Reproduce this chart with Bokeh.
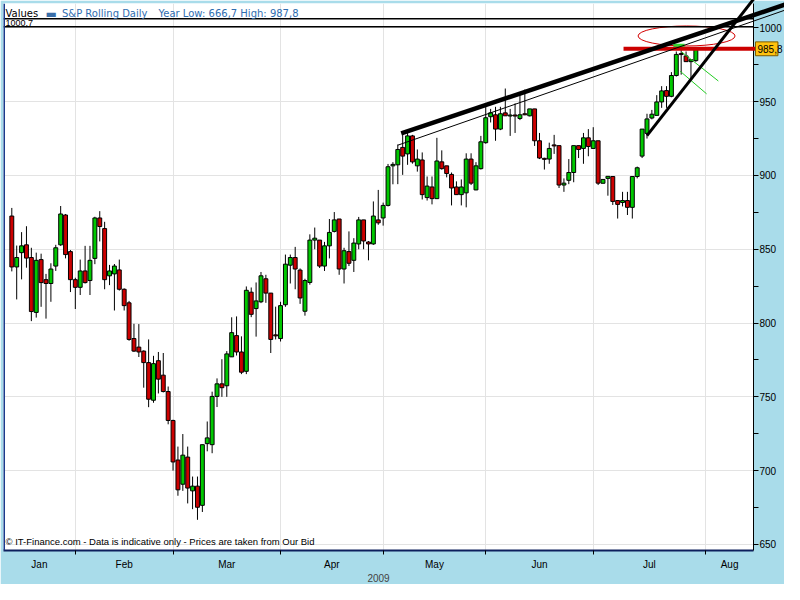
from bokeh.plotting import figure
from bokeh.models import FixedTicker, Label, Span
from bokeh.core.properties import value
from bokeh.embed import file_html
from bokeh.resources import INLINE

# ---------------- data ----------------
opens = [872.5, 838, 847.7, 853, 844.4, 807.2, 843, 829.4, 826.8, 838.6,
         853, 873.2, 848.4, 829.4, 824.2, 835.3, 828.8, 843.8, 871.2, 864,
         832, 833.3, 836, 822.9, 813.7, 789.5, 783.7, 781, 773.2, 747.7,
         774.5, 764.7, 753.6, 734, 707.2, 690.8, 709.2, 686.3, 689.5, 676.5,
         718.3, 717.6, 750.3, 758.8, 757.5, 777.1, 791.5, 780.4, 767.3, 820.9,
         809.8, 814.4, 830, 820.3, 791.8, 789.5, 812.4, 839.2, 844.4, 835.9,
         808, 827.5, 856.2, 856.2, 838.6, 852.3, 862.1, 870.5, 836.6, 848.4,
         842.5, 853.6, 869.9, 854.9, 853.6, 869.9, 871.2, 879.7, 906.5, 907.2,
         919, 914.6, 926.8, 906.5, 910.5, 885, 892.2, 884.3, 909.2, 906.5,
         900.7, 892.2, 887, 888.2, 911.1, 890.2, 904.6, 922.2, 939.8, 941.1,
         931.4, 942.4, 940.4, 940.8, 938.6, 941.8, 940.4, 945.1, 923.5, 911.4,
         911.1, 920.5, 920.2, 893.5, 896.7, 902, 920.2, 918.3, 925.5, 918.3,
         923.5, 894.7, 898, 899.3, 883, 881.7, 883, 878.4, 899.3, 913.1,
         928.5, 938.9, 940.7, 949.8, 957.5, 953.6, 967.7, 982.5, 981, 977.1,
         977.8]
closes = [838, 844.4, 852.3, 844, 807.8, 842.5, 827.4, 826.8, 836.6, 851,
          873.9, 846.4, 829.4, 824.2, 835.3, 827.4, 842.5, 871.2, 865.4, 829.4,
          835.3, 838.6, 822.9, 811.8, 788.9, 781, 780.4, 773.2, 748.4, 772.5,
          762, 753.6, 734, 705.9, 687, 710.5, 688.2, 689.5, 675.2, 717.6,
          722.2, 750.3, 758.8, 756.2, 779.1, 793.5, 780.4, 766.7, 822.2, 805.9,
          815, 832, 820.3, 788.9, 791.5, 811.8, 839.9, 844.4, 836.6, 817,
          828.8, 856.2, 857.5, 838.6, 852.3, 861.4, 869.9, 836.6, 849, 840.5,
          854.2, 869.9, 855.6, 853.6, 872.5, 867.9, 879.7, 905.9, 907.5, 917.6,
          913.1, 926.8, 909.2, 911.1, 887, 892.8, 884.3, 909.8, 904.6, 901.3,
          891.5, 887, 892.2, 911.1, 894.8, 906.5, 922.8, 939.1, 942.4, 931.4,
          941.8, 940.4, 940.8, 940.4, 941.1, 941.1, 945.1, 923.5, 911.8, 911.1,
          918.3, 920.2, 893.5, 894.8, 902, 920.2, 917.6, 925.5, 919.6, 923.5,
          894.8, 897.3, 899.4, 882.4, 880.4, 883, 878.4, 899.3, 905.2, 931.4,
          938.3, 941.5, 949.8, 957.3, 953.6, 967.7, 982, 982, 977.1, 978.4,
          985.8]
highs = [878, 852.5, 861.6, 865.6, 851, 847.7, 847, 833.3, 840.5, 853,
         879.3, 873.9, 849.5, 830.7, 843, 852.3, 852.3, 872, 875.8, 868.6,
         839.4, 840, 843, 823.5, 815, 799.5, 799.3, 781.5, 788.9, 777.8,
         780.4, 779.7, 757, 734.5, 716.3, 724.8, 716.3, 696, 696, 717.6,
         733.3, 753.5, 762.5, 775.5, 781, 803.9, 804.5, 791, 824.8, 824.1,
         827.5, 834.6, 832.7, 820.3, 811.1, 814.4, 846.4, 846.4, 851.6, 837,
         830, 860.1, 864.7, 856.2, 855, 870.5, 875.2, 870.5, 851, 862.1,
         857.5, 871.9, 869.9, 855.6, 882.4, 890.2, 881.6, 907.8, 909, 921,
         928.8, 930.3, 927.5, 917.6, 915.6, 899.3, 899.3, 925.5, 917, 906.5,
         902, 896, 897.3, 915, 915, 909, 926.8, 947.2, 945.1, 946.5,
         946.5, 958.9, 945.1, 948.8, 954.4, 958.2, 945.1, 945.1, 928.8, 912,
         922.2, 927.5, 920.2, 898, 911.1, 920.2, 920.2, 928.8, 931.4, 932.7,
         923.5, 897.3, 899.4, 899.3, 883, 888.9, 888.9, 899.3, 906, 931.4,
         941.8, 944.4, 954.4, 960.5, 960.5, 970, 984, 987.8, 984, 978.4,
         985.8]
lows = [835, 816, 829.6, 837.5, 801.3, 803.7, 811, 803, 814.4, 835.3,
        852.3, 843.8, 821, 809.5, 819, 826.8, 819, 839.9, 855.3, 822.9,
        825.7, 808.5, 822, 808.5, 788, 780.4, 777, 756.2, 743, 746,
        752.3, 753, 731.4, 700, 683, 686.3, 677.8, 673.9, 666.7, 672,
        713.1, 711.8, 743.1, 750, 750, 777, 778, 765.4, 765.4, 804,
        790.8, 813.5, 813.7, 779.7, 788.9, 787.5, 811, 826.8, 822.9, 813,
        805, 826, 850, 837.3, 835.3, 843.8, 861.4, 832.7, 826.8, 838.6,
        834.6, 850, 850, 842.5, 853, 866.6, 866, 879, 894, 894.1,
        900.4, 907.2, 908, 902.6, 883.7, 883, 880.4, 884, 903.9, 898.7,
        879.7, 887, 879.7, 878.4, 893.5, 890, 904, 921.5, 935.9, 923.5,
        930.7, 940.4, 926.8, 928.8, 937.5, 940.8, 940, 920, 911.1, 904,
        907.9, 914.6, 891.5, 888.9, 894.1, 895.4, 911.8, 907.9, 913, 918.3,
        893.5, 894.7, 886.3, 880, 870.8, 879, 873.2, 870.8, 898, 911.8,
        925, 938, 940.7, 945.8, 945.8, 953, 967, 968.3, 977, 965,
        977]

month_names = ["Jan", "Feb", "Mar", "Apr", "May", "Jun", "Jul", "Aug"]
month_starts = [13, 33, 55, 76, 97, 119, 142]   # candle index of first day of Feb..Aug
y_ticks = [650, 700, 750, 800, 850, 900, 950, 1000]
y_minor_ticks = [675, 725, 775, 825, 875, 925, 975]
year_label = "2009"
series_name = "S&P Rolling Daily"
year_low = 666.7
year_high = 987.8
current_price = 985.8
range_max = 1000.7
upper_border = 1006.1

# drawn analysis objects (index, value)
thick_trend_x = [79.7, 161.0]
thick_trend_y = [928.5, 1018.8]
thin_trend_x = [79.0, 161.0]
thin_trend_y = [920.5, 1015.2]
steep_trend_x = [130.0, 153.0]
steep_trend_y = [927.0, 1024.5]
green1_x = [137.1, 144.6]
green1_y = [983.7, 964.0]
green2_x = [136.8, 142.2]
green2_y = [970.6, 955.3]
ellipse_x = [138.1]
ellipse_y = [994.5]
price_line_start = 125.2
high_mark_x = [135.4, 137.7]

def fmt(v):
    return ("%.1f" % v).replace(".", ",")

# ---------------- figure ----------------
X0, X1 = -1.7, 151.8
Y0, Y1 = 645.9, 1016.5
BLUE_BG = "#A9DCEA"
AXF = "Liberation Sans"

p = figure(width=784, height=584, x_range=(X0, X1), y_range=(Y0, Y1),
           output_backend="svg", toolbar_location=None, y_axis_location="right",
           min_border_left=3, min_border_top=3, min_border_right=30, min_border_bottom=26)
p.background_fill_color = "white"
p.border_fill_color = BLUE_BG
p.outline_line_color = None

# grids
p.xgrid.ticker = FixedTicker(ticks=month_starts)
p.ygrid.ticker = FixedTicker(ticks=y_ticks)
p.xgrid.grid_line_color = "#e3e3e3"
p.ygrid.grid_line_color = "#e3e3e3"

# x axis: labels at month middles, ticks at month boundaries
bounds = [X0] + month_starts + [X1]
mids = [(bounds[i] + bounds[i + 1]) / 2.0 for i in range(len(month_names))]
xa = p.xaxis[0]
xa.ticker = FixedTicker(ticks=mids, minor_ticks=month_starts)
xa.major_label_overrides = {m: n for m, n in zip(mids, month_names)}
xa.major_tick_out = 0
xa.major_tick_in = 0
xa.minor_tick_out = 4
xa.minor_tick_in = 0
xa.minor_tick_line_color = "black"
xa.axis_line_color = "#0d1f5c"
xa.axis_line_width = 2
xa.major_label_standoff = 4
xa.major_label_text_font = AXF
xa.major_label_text_font_size = "10px"
xa.major_label_text_color = "black"
xa.axis_label = year_label
xa.axis_label_text_font = AXF
xa.axis_label_text_font_size = "10px"
xa.axis_label_text_font_style = "normal"
xa.axis_label_standoff = 1

# y axis (right)
ya = p.yaxis[0]
ya.ticker = FixedTicker(ticks=y_ticks, minor_ticks=y_minor_ticks)
ya.major_tick_out = 5
ya.major_tick_in = 0
ya.minor_tick_out = 5
ya.minor_tick_in = 0
ya.axis_line_color = "black"
ya.major_tick_line_color = "black"
ya.minor_tick_line_color = "black"
ya.major_label_standoff = 1
ya.major_label_text_font = AXF
ya.major_label_text_font_size = "10px"
ya.major_label_text_color = "black"

# ---------------- candles ----------------
idx = list(range(len(opens)))
up = [c >= o for o, c in zip(opens, closes)]
tops, bots = [], []
for o, c in zip(opens, closes):
    t, b = max(o, c), min(o, c)
    if t - b < 0.7:
        m = (t + b) / 2
        t, b = m + 0.35, m - 0.35
    tops.append(t)
    bots.append(b)
colors = ["#00C800" if u else "#CC0000" for u in up]

p.segment(x0=idx, y0=highs, x1=idx, y1=lows, line_color="black", line_width=1)
p.vbar(x=idx, width=0.8, top=tops, bottom=bots, fill_color=colors,
       line_color="black", line_width=1)

# ---------------- drawings ----------------
p.line(green1_x, green1_y, line_color="#22cc22", line_width=1)
p.line(green2_x, green2_y, line_color="#22cc22", line_width=1)
p.ellipse(x=ellipse_x, y=ellipse_y, width=97, height=20, width_units="screen",
          height_units="screen", fill_alpha=0, line_color="#d40000", line_width=1)
p.segment(x0=[high_mark_x[0]], y0=[year_high], x1=[high_mark_x[1]], y1=[year_high],
          line_color="#33d633", line_width=4)
# overlay level: not clipped to the frame, like the reference drawings
p.segment(x0=[price_line_start], y0=[current_price], x1=[X1 + 0.4], y1=[current_price],
          line_color="#CC0000", line_width=4, level="overlay")
p.line(thin_trend_x, thin_trend_y, line_color="black", line_width=1, level="overlay")
p.line(thick_trend_x, thick_trend_y, line_color="black", line_width=4.5, level="overlay")
p.line(steep_trend_x, steep_trend_y, line_color="black", line_width=3, level="overlay")

# current price box on the axis
p.quad(left=[X1 + 0.4], right=[X1 + 5.0], bottom=[current_price - 4.7],
       top=[current_price + 4.7], fill_color="#FFC20E", line_color="#7a5a00",
       line_width=1, level="overlay")
p.text(x=[X1 + 0.4], y=[current_price], text=[fmt(current_price)], x_offset=2,
       text_baseline="middle", text_align="left", text_font=value(AXF),
       text_font_size="10px", text_color="black", level="overlay")

p.add_layout(Span(location=range_max, dimension="width", line_color="black", line_width=1.5))
p.add_layout(Span(location=upper_border, dimension="width", line_color="black", line_width=1.5))
p.add_layout(Span(location=X0, dimension="height", line_color="#1b3a8c", line_width=3))

# ---------------- texts ----------------
HEAD = "DejaVu Sans"
p.add_layout(Label(x=X0, y=Y1, x_offset=2, y_offset=-10, text="Values", text_font=HEAD,
                   text_font_size="10px", text_color="black", text_baseline="middle"))
p.add_layout(Label(x=X0, y=Y1, x_offset=42, y_offset=-10, text="\u25ac", text_font=HEAD,
                   text_font_size="12px", text_color="#3a6ea8", text_baseline="middle"))
p.add_layout(Label(x=X0, y=Y1, x_offset=58.5, y_offset=-10, text=series_name, text_font=HEAD,
                   text_font_size="10px", text_color="#2f6db0", text_baseline="middle"))
p.add_layout(Label(x=X0, y=Y1, x_offset=155, y_offset=-10,
                   text="Year Low: %s High: %s" % (fmt(year_low), fmt(year_high)),
                   text_font=HEAD, text_font_size="10px", text_color="#2f6db0",
                   text_baseline="middle"))
p.add_layout(Label(x=X0, y=range_max, x_offset=2, y_offset=1, text=fmt(range_max),
                   text_font=AXF, text_font_size="9px", text_color="black",
                   text_baseline="bottom"))
p.add_layout(Label(x=X0, y=Y0, x_offset=2, y_offset=9,
                   text="\u00a9 IT-Finance.com - Data is indicative only - Prices are taken from Our Bid",
                   text_font=AXF, text_font_size="9.5px", text_color="black",
                   text_baseline="middle"))

open("out.html", "w").write(file_html(p, INLINE))
